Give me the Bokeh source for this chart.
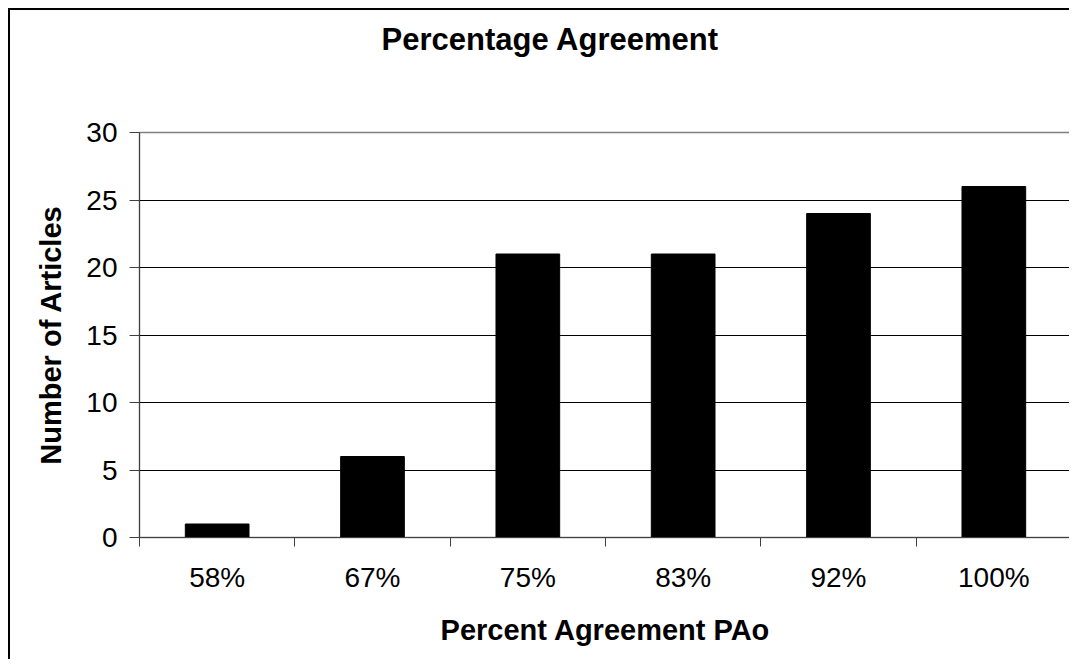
from bokeh.plotting import figure
from bokeh.models import Range1d, FixedTicker, Title
from bokeh.embed import file_html
from bokeh.resources import INLINE

title_text = "Percentage Agreement"
categories = ["58%", "67%", "75%", "83%", "92%", "100%"]
articles = [1, 6, 21, 21, 24, 26]
y_ticks = [0, 5, 10, 15, 20, 25, 30]

FONT = "Liberation Sans"
n = len(categories)
centers = [i + 0.5 for i in range(n)]

p = figure(width=1061, height=651, output_backend="svg", toolbar_location=None,
           x_range=Range1d(0, n), y_range=Range1d(0, 30),
           min_border_left=129, min_border_top=122, min_border_right=0,
           min_border_bottom=124)
p.styles = {"border-left": "2px solid black", "border-top": "2px solid black",
            "margin-left": "8px", "margin-top": "8px"}

# spacer between the chart title and the plot frame
p.add_layout(Title(text=" ", text_font_size="1px", standoff=64), "above")
p.add_layout(Title(text=title_text, text_font=FONT, text_font_size="31px",
                   text_font_style="bold", text_color="black", align="left",
                   offset=242, standoff=18), "above")

p.vbar(x=centers, top=articles, width=0.41, color="black")

p.outline_line_color = "#808080"
p.outline_line_width = 1.5
p.background_fill_color = "white"
p.border_fill_color = "white"

# x axis: ticks at category boundaries, labels at centers
p.xaxis.ticker = FixedTicker(ticks=centers, minor_ticks=list(range(n + 1)))
p.xaxis.major_label_overrides = {c: lab for c, lab in zip(centers, categories)}
p.xaxis.major_tick_out = 0
p.xaxis.major_tick_in = 0
p.xaxis.minor_tick_out = 9
p.xaxis.minor_tick_in = 0
p.xaxis.minor_tick_line_color = "#404040"
p.xaxis.axis_line_color = "#404040"
p.xaxis.major_label_text_font = FONT
p.xaxis.major_label_text_font_size = "28px"
p.xaxis.major_label_text_color = "black"
p.xaxis.major_label_standoff = 15
p.xaxis.axis_label = "Percent Agreement PAo"
p.xaxis.axis_label_text_font = FONT
p.xaxis.axis_label_text_font_size = "29px"
p.xaxis.axis_label_text_font_style = "bold"
p.xaxis.axis_label_text_color = "black"
p.xaxis.axis_label_standoff = 18
p.xgrid.visible = False

# y axis
p.yaxis.ticker = FixedTicker(ticks=y_ticks)
p.yaxis.major_tick_out = 10
p.yaxis.major_tick_in = 0
p.yaxis.minor_tick_out = 0
p.yaxis.major_tick_line_color = "#404040"
p.yaxis.axis_line_color = "#404040"
p.yaxis.major_label_text_font = FONT
p.yaxis.major_label_text_font_size = "28px"
p.yaxis.major_label_text_color = "black"
p.yaxis.major_label_standoff = 12
p.yaxis.axis_label = "Number of Articles"
p.yaxis.axis_label_text_font = FONT
p.yaxis.axis_label_text_font_size = "29px"
p.yaxis.axis_label_text_font_style = "bold"
p.yaxis.axis_label_text_color = "black"
p.yaxis.axis_label_standoff = 16
p.ygrid.grid_line_color = "black"
p.ygrid.grid_line_width = 1

open("out.html", "w").write(file_html(p, INLINE))
